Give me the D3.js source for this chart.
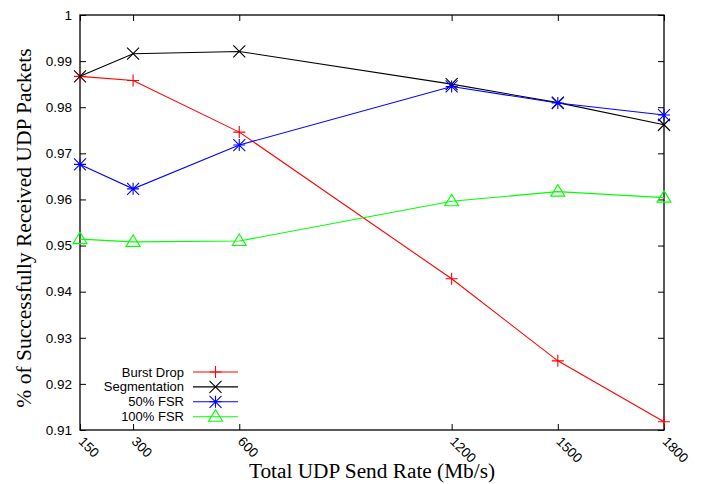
<!DOCTYPE html>
<html><head><meta charset="utf-8">
<script src="https://cdn.jsdelivr.net/npm/d3@7"></script>
<style>body{margin:0;background:#fff}svg{display:block}</style>
</head><body>
<script>
const rates = [150, 300, 600, 1200, 1500, 1800];
const burstDrop = [0.9867, 0.9858, 0.9746, 0.9428, 0.9250, 0.9118];
const segmentation = [0.9867, 0.9916, 0.9921, 0.9850, 0.9810, 0.9762];
const fsr50 = [0.9676, 0.9623, 0.9718, 0.9845, 0.9809, 0.9783];
const fsr100 = [0.9514, 0.9508, 0.9510, 0.9596, 0.9617, 0.9604];
const yTicks = [0.91, 0.92, 0.93, 0.94, 0.95, 0.96, 0.97, 0.98, 0.99, 1];
const seriesNames = ["Burst Drop", "Segmentation", "50% FSR", "100% FSR"];
const seriesColors = ["#ff0000", "#000000", "#0000ff", "#00ff00"];
const seriesMarkers = ["plus", "cross", "star", "triangle"];
const seriesValues = [burstDrop, segmentation, fsr50, fsr100];

const W = 702, H = 484;
const L = 80, R = 664, T = 15, B = 430;
const svg = d3.select("body").append("svg").attr("width", W).attr("height", H);
const x = d3.scaleLinear().domain([150, 1800]).range([L, R]);
const y = d3.scaleLinear().domain([0.91, 1]).range([B, T]);

const sans = "'Liberation Sans', Arial, sans-serif";
const serif = "'Liberation Serif', 'Times New Roman', serif";

// axes with inward ticks (gnuplot style)
const tl = 6;
svg.append("g").attr("transform", `translate(0,${B})`)
  .call(d3.axisBottom(x).tickValues(rates).tickSize(-tl).tickFormat(""))
  .call(g => g.select(".domain").remove());
svg.append("g").attr("transform", `translate(0,${T})`)
  .call(d3.axisTop(x).tickValues(rates).tickSize(-tl).tickFormat(""))
  .call(g => g.select(".domain").remove());
const yl = svg.append("g").attr("transform", `translate(${L},0)`)
  .call(d3.axisLeft(y).tickValues(yTicks).tickSize(-tl).tickPadding(8).tickFormat(d => String(+d.toFixed(2))))
  .call(g => g.select(".domain").remove());
yl.selectAll("text").attr("font-family", sans).attr("font-size", 13.5).attr("fill", "#000");
svg.append("g").attr("transform", `translate(${R},0)`)
  .call(d3.axisRight(y).tickValues(yTicks).tickSize(-tl).tickFormat(""))
  .call(g => g.select(".domain").remove());
svg.selectAll(".tick line").attr("stroke", "#000");

// rotated x tick labels
svg.append("g").selectAll("text").data(rates).join("text")
  .attr("transform", d => `translate(${x(d) + 1},${B + 9}) rotate(45)`)
  .attr("dy", "0.35em")
  .attr("font-family", sans).attr("font-size", 13.5).attr("text-anchor", "start")
  .text(d => d);

// border
svg.append("rect").attr("x", L).attr("y", T).attr("width", R - L).attr("height", B - T)
  .attr("fill", "none").attr("stroke", "#000").attr("stroke-width", 1.3);

// titles
svg.append("text").attr("x", 372).attr("y", 478)
  .attr("text-anchor", "middle").attr("font-family", serif).attr("font-size", 21.3)
  .text("Total UDP Send Rate (Mb/s)");
svg.append("text").attr("transform", `translate(31,228) rotate(-90)`)
  .attr("text-anchor", "middle").attr("font-family", serif).attr("font-size", 21.5)
  .text("% of Successfully Received UDP Packets");

function marker(g, type, cx, cy, color) {
  const s = 6;
  const p = d3.path();
  if (type === "plus" || type === "star") {
    p.moveTo(cx - s, cy); p.lineTo(cx + s, cy);
    p.moveTo(cx, cy - s); p.lineTo(cx, cy + s);
  }
  if (type === "cross" || type === "star") {
    p.moveTo(cx - s, cy - s); p.lineTo(cx + s, cy + s);
    p.moveTo(cx - s, cy + s); p.lineTo(cx + s, cy - s);
  }
  if (type === "triangle") {
    p.moveTo(cx, cy - 7); p.lineTo(cx + 7, cy + 4.5); p.lineTo(cx - 7, cy + 4.5); p.closePath();
  }
  g.append("path").attr("d", p.toString()).attr("fill", "none").attr("stroke", color).attr("stroke-width", 1.1);
}

const line = d3.line().x(d => x(d[0])).y(d => y(d[1]));
seriesValues.forEach((vals, i) => {
  const pts = rates.map((r, j) => [r, vals[j]]);
  const g = svg.append("g");
  g.append("path").attr("d", line(pts)).attr("fill", "none")
    .attr("stroke", seriesColors[i]).attr("stroke-width", 1.1);
  pts.forEach(p => marker(g, seriesMarkers[i], x(p[0]), y(p[1]), seriesColors[i]));
});

// legend
const lg = svg.append("g");
seriesNames.forEach((n, i) => {
  const ly = 372 + i * 14.9;
  lg.append("text").attr("x", 184).attr("y", ly).attr("dy", "0.35em")
    .attr("text-anchor", "end").attr("font-family", sans).attr("font-size", 13).text(n);
  lg.append("line").attr("x1", 193).attr("x2", 238).attr("y1", ly).attr("y2", ly)
    .attr("stroke", seriesColors[i]).attr("stroke-width", 1.1);
  marker(lg, seriesMarkers[i], 215.5, ly, seriesColors[i]);
});
</script>
</body></html>
